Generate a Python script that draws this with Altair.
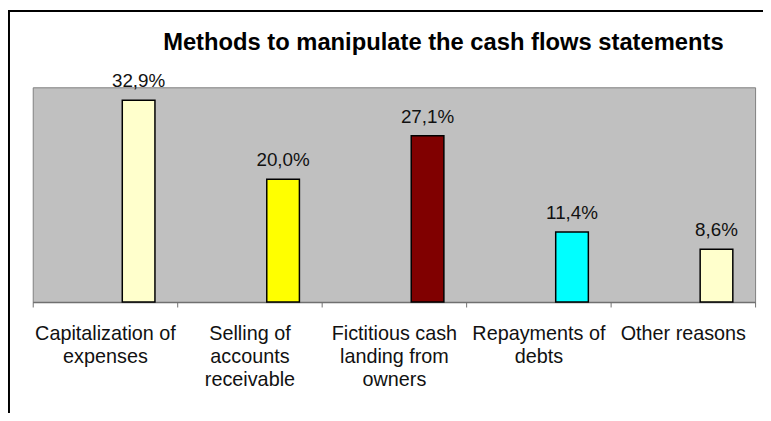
import altair as alt
import pandas as pd

categories = [
    "Capitalization of|expenses",
    "Selling of|accounts|receivable",
    "Fictitious cash|landing from|owners",
    "Repayments of|debts",
    "Other reasons",
]
values = [32.9, 20.0, 27.1, 11.4, 8.6]
colors = ["#FFFFCC", "#FFFF00", "#800000", "#00FFFF", "#FFFFCC"]
title_text = "Methods to manipulate the cash flows statements"

df = pd.DataFrame({"cat": categories, "v": values, "col": colors})
FONT = "Liberation Sans"

x = alt.X("cat:N", sort=categories,
          scale=alt.Scale(paddingInner=0, paddingOuter=0),
          axis=alt.Axis(title=None, labelAngle=0, tickBand="extent",
                        labelExpr="split(datum.label, '|')",
                        labelFont=FONT, labelFontSize=20, labelColor="#111111",
                        labelLineHeight=23, labelPadding=17, labelBaseline="top",
                        domainColor="#707070", domainWidth=1.5,
                        tickColor="#707070", tickSize=5, labelLimit=200))
y = alt.Y("v:Q", scale=alt.Scale(domain=[0, 35], nice=False), axis=None)

bars = alt.Chart(df).mark_bar(width=33, xOffset=34, stroke="black", strokeWidth=1.5).encode(
    x=x, y=y, fill=alt.Fill("col:N", scale=None)
)
labels = alt.Chart(df).transform_calculate(
    lab="replace(format(datum.v, '.1f'), '.', ',') + '%'"
).mark_text(xOffset=34, dy=-13, baseline="alphabetic", font=FONT, fontSize=19, color="#111111").encode(
    x=x, y=y, text="lab:N"
)

frame_df = pd.DataFrame({"a": [0]})
left_border = alt.Chart(frame_df).mark_rule(color="black", strokeWidth=2).encode(
    x=alt.value(-24), y=alt.value(-77), y2=alt.value(340))
top_border = alt.Chart(frame_df).mark_rule(color="black", strokeWidth=2).encode(
    x=alt.value(-25), x2=alt.value(745), y=alt.value(-77))

chart = alt.layer(bars, labels, left_border, top_border).properties(
    width=730, height=217,
    padding={"left": 25, "top": 78, "right": 8, "bottom": 110},
    autosize=alt.AutoSizeParams(type="none"),
    background="white",
    title=alt.TitleParams(title_text, font=FONT, fontSize=24, fontWeight="bold",
                          anchor="middle", frame="group", dx=50, offset=-64,
                          baseline="alphabetic", color="black"),
).configure_view(fill="#C0C0C0", stroke="#808080", strokeWidth=1)

chart.save("out.html", embed_options={"renderer": "svg", "actions": False})
